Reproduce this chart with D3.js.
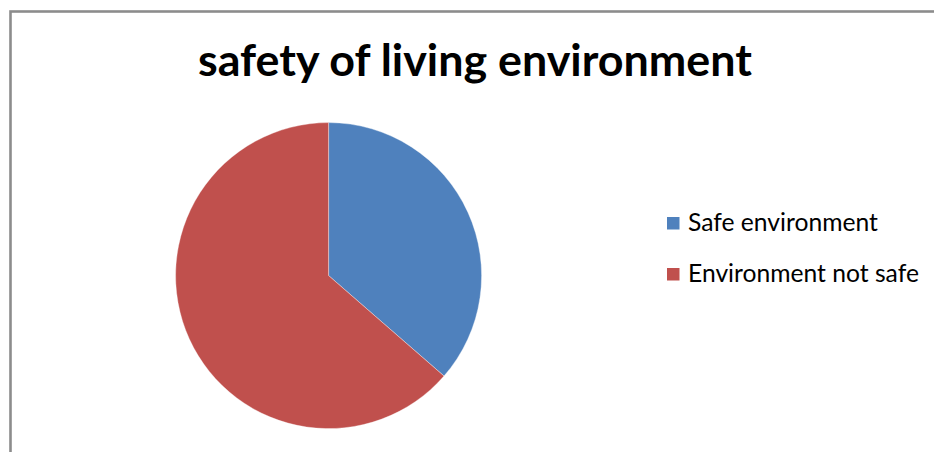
<!DOCTYPE html>
<html>
<head>
<meta charset="utf-8">
<script src="https://cdn.jsdelivr.net/npm/d3@7"></script>
<style>
  html, body { margin: 0; padding: 0; background: #fff; }
  svg { display: block; }
</style>
</head>
<body>
<svg id="chart" width="934" height="452"></svg>
<script>
// Chart data
const title = "safety of living environment";
const categories = ["Safe environment", "Environment not safe"];
const values = [36.4, 63.6];
const colors = ["#4F81BD", "#C0504D"];

const svg = d3.select("#chart");
const W = 934, H = 452;
const FONT = "Lato, Carlito, 'Open Sans', sans-serif";

// White background and chart-area frame
svg.append("rect").attr("width", W).attr("height", H).attr("fill", "#fff");
svg.append("rect")
  .attr("x", 10.5).attr("y", 11.5)
  .attr("width", W + 20).attr("height", H + 20)
  .attr("fill", "none")
  .attr("stroke", "#8c8c8c")
  .attr("stroke-width", 2.6);

// Title, sized to span its box
const titleEl = svg.append("text")
  .attr("x", 475).attr("y", 76)
  .attr("text-anchor", "middle")
  .attr("font-family", FONT)
  .attr("font-weight", "bold")
  .attr("font-size", 40)
  .attr("fill", "#000")
  .text(title);
const tw = titleEl.node().getComputedTextLength();
titleEl.attr("font-size", 40 * 554 / tw);

// Pie
const cx = 328.6, cy = 275.6, r = 153;
const pie = d3.pie().sort(null).value(d => d)(values);
const arc = d3.arc().innerRadius(0).outerRadius(r);
const g = svg.append("g").attr("transform", `translate(${cx},${cy})`);
g.selectAll("path")
  .data(pie)
  .join("path")
  .attr("d", arc)
  .attr("fill", (d, i) => colors[i])
  .attr("stroke", "#ffffff")
  .attr("stroke-opacity", 0.45)
  .attr("stroke-width", 0.8);

// Legend
const legend = svg.append("g");
const rowY = [229, 280];
const items = legend.selectAll("g")
  .data(categories)
  .join("g")
  .attr("transform", (d, i) => `translate(0,${rowY[i]})`);
items.append("rect")
  .attr("x", 667).attr("y", -12)
  .attr("width", 12.5).attr("height", 12.5)
  .attr("fill", (d, i) => colors[i]);
const labels = items.append("text")
  .attr("x", 688).attr("y", 1.5)
  .attr("font-family", FONT)
  .attr("font-size", 21)
  .attr("fill", "#000")
  .text(d => d);
const lw = labels.nodes()[0].getComputedTextLength();
labels.attr("font-size", 21 * 190 / lw);
</script>
</body>
</html>
